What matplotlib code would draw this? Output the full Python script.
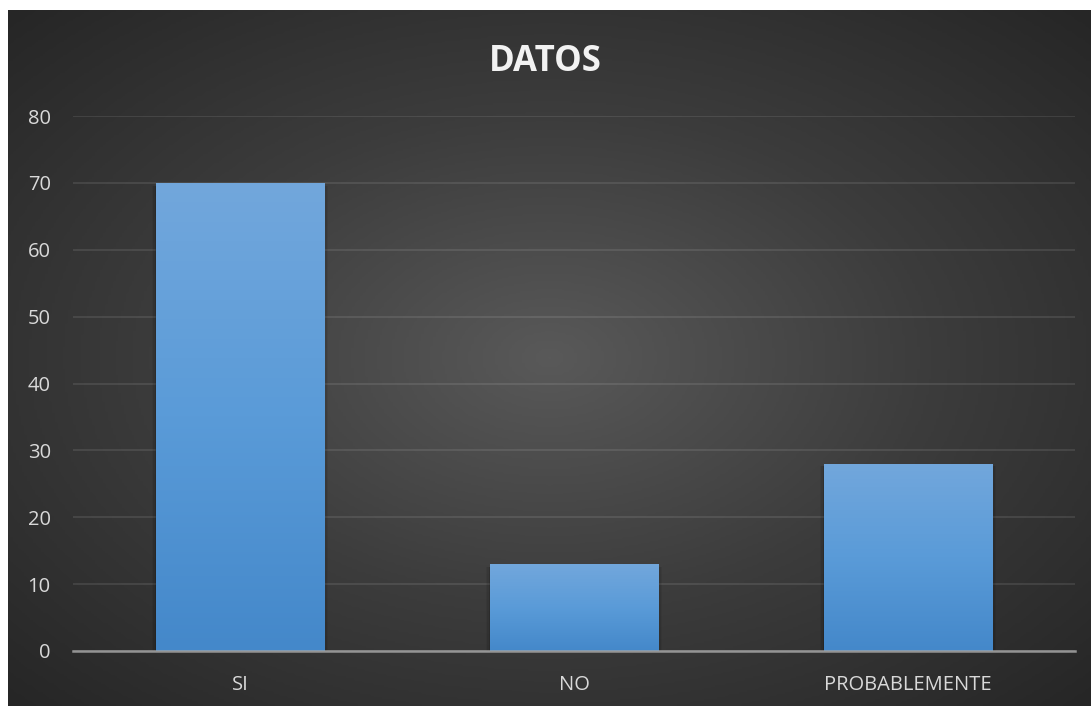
import numpy as np
import matplotlib.pyplot as plt
from matplotlib.colors import LinearSegmentedColormap

categorias = ['SI', 'NO', 'PROBABLEMENTE']
valores = [70, 13, 28]
yticks = [0, 10, 20, 30, 40, 50, 60, 70, 80]

plt.rcParams['font.family'] = ['Open Sans', 'DejaVu Sans']

fig = plt.figure(figsize=(10.91, 7.06), dpi=100)
fig.patch.set_facecolor('white')

# dark panel with radial gradient
bg = fig.add_axes([8 / 1091, 0, 1083 / 1091, 696 / 706])
bg.set_axis_off()
yy, xx = np.mgrid[-1:1:300j, -1:1:400j]
r = np.sqrt(xx ** 2 + yy ** 2) / np.sqrt(2)
bg_cmap = LinearSegmentedColormap.from_list('bg', ['#595959', '#3c3c3c', '#262626'])
bg.imshow(r, cmap=bg_cmap, aspect='auto', extent=[0, 1, 0, 1], vmin=0, vmax=1)
bg.set_xlim(0, 1)
bg.set_ylim(0, 1)

ax = fig.add_axes([73 / 1091, 55 / 706, 1002 / 1091, 535 / 706])
ax.patch.set_alpha(0)
x = np.arange(len(categorias))
bars = ax.bar(x, valores, width=0.503, color='#5b9bd5', zorder=2)

# vertical gradient in each bar
bar_cmap = LinearSegmentedColormap.from_list('bar', ['#4488ca', '#5a9bd8', '#72a7dc'])
grad = np.linspace(0, 1, 256).reshape(-1, 1)
for b in bars:
    x0, y0 = b.get_x(), b.get_y()
    w, h = b.get_width(), b.get_height()
    # soft shadow
    for k, a in [(0.004, 0.12), (0.008, 0.08), (0.012, 0.05)]:
        ax.bar(x0 + w / 2, h + 0.2, width=w + 2 * k, bottom=-0.6, color='black',
               alpha=a, zorder=1.5, linewidth=0)
    im = ax.imshow(grad, cmap=bar_cmap, aspect='auto', origin='lower',
                   extent=[x0, x0 + w, y0, y0 + h], zorder=2.5)
    im.set_clip_path(b)

ax.set_xlim(-0.5, len(categorias) - 0.5)
ax.set_ylim(0, 80)
ax.set_yticks(yticks)
ax.set_xticks(x)
ax.set_xticklabels(categorias)
ax.grid(axis='y', color='white', alpha=0.1, linewidth=1.3, zorder=0)
ax.set_axisbelow(True)
for s in ['top', 'right', 'left']:
    ax.spines[s].set_visible(False)
ax.spines['bottom'].set_color('#a6a6a6')
ax.spines['bottom'].set_linewidth(1.8)
ax.spines['bottom'].set_alpha(0.85)
ax.spines['bottom'].set_zorder(3)
ax.tick_params(axis='both', length=0, colors='#d9d9d9', labelsize=14.5)
ax.tick_params(axis='y', pad=16)
ax.tick_params(axis='x', pad=17)

fig.text(0.5, 1 - 62 / 706, 'DATOS', ha='center', va='center', fontsize=25,
         fontweight='bold', color='#f2f2f2')

fig.savefig('out.png', dpi=100)
